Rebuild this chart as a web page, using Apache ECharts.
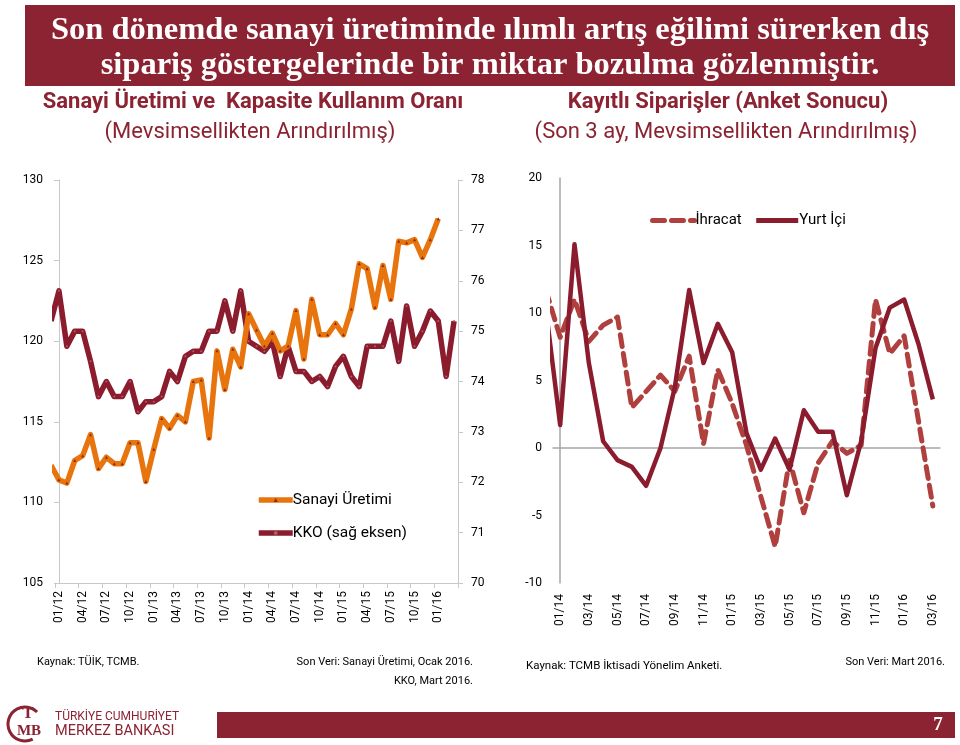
<!DOCTYPE html>
<html><head><meta charset="utf-8">
<script src="https://cdn.jsdelivr.net/npm/echarts@6/dist/echarts.min.js"></script>
<style>html,body{margin:0;padding:0;background:#fff}#c{width:960px;height:745px}</style>
</head><body><div id="c"></div>
<script>
// ---- Left chart: Sanayi Üretimi (left axis) & KKO (right axis) ----
const months1 = ['01/12','02/12','03/12','04/12','05/12','06/12','07/12','08/12','09/12','10/12','11/12','12/12',
 '01/13','02/13','03/13','04/13','05/13','06/13','07/13','08/13','09/13','10/13','11/13','12/13',
 '01/14','02/14','03/14','04/14','05/14','06/14','07/14','08/14','09/14','10/14','11/14','12/14',
 '01/15','02/15','03/15','04/15','05/15','06/15','07/15','08/15','09/15','10/15','11/15','12/15',
 '01/16','02/16','03/16'];
const sanayi = [111.4,111.2,112.6,112.9,114.2,112.1,112.8,112.4,112.4,113.7,113.7,111.3,
 113.3,115.2,114.6,115.4,115.0,117.5,117.6,114.0,119.4,117.0,119.5,118.4,
 121.7,120.7,119.7,120.5,119.4,119.7,121.9,118.9,122.6,120.4,120.4,121.1,
 120.4,122.0,124.8,124.5,122.1,124.7,122.6,126.2,126.1,126.3,125.2,126.3,
 127.6];
const kko = [75.8,74.7,75.0,75.0,74.4,73.7,74.0,73.7,73.7,74.0,73.4,73.6,
 73.6,73.7,74.2,74.0,74.5,74.6,74.6,75.0,75.0,75.6,75.0,75.8,
 74.8,74.7,74.6,74.8,74.1,74.7,74.2,74.2,74.0,74.1,73.9,74.3,
 74.5,74.1,73.9,74.7,74.7,74.7,75.2,74.4,75.5,74.7,75.0,75.4,
 75.2,74.1,75.2];
// values of the month before the first category (12/11), clipped at the plot edge
const sanayiPrev = 112.3;
const kkoPrev = 75.2;

// ---- Right chart: Kayıtlı Siparişler ----
const months2 = ['01/14','02/14','03/14','04/14','05/14','06/14','07/14','08/14','09/14','10/14','11/14','12/14',
 '01/15','02/15','03/15','04/15','05/15','06/15','07/15','08/15','09/15','10/15','11/15','12/15',
 '01/16','02/16','03/16'];
const ihracat = [8.2,11.0,7.9,9.1,9.7,3.0,4.2,5.4,4.2,6.8,0.3,5.8,
 3.3,0.2,-3.6,-7.3,-0.9,-4.8,-1.1,0.5,-0.4,0.2,11.0,7.0,
 8.3,2.0,-4.3];
const yurtIci = [1.7,15.1,6.3,0.5,-0.9,-1.4,-2.8,0.0,4.5,11.7,6.3,9.2,
 7.1,1.1,-1.6,0.7,-1.6,2.8,1.2,1.2,-3.5,0.5,7.4,10.4,
 11.0,7.7,3.6];
// values of 12/13, clipped at the plot edge
const ihracatPrev = 11.7;
const yurtIciPrev = 10.3;

const RED = '#8C2332';
const FONT = "Roboto, 'Noto Sans', sans-serif";

function withPrev(prev, arr){ return [[-1, prev]].concat(arr.map((v,i)=>[i,v])); }

const chart = echarts.init(document.getElementById('c'), null, {renderer:'canvas'});
const lblStyle = {color:'#000', fontSize:12, fontFamily:FONT};
const option = {
  animation:false,
  backgroundColor:'#fff',
  grid:[
    {left:55, top:180, width:403, height:403},
    {left:553, top:178, width:387, height:405}
  ],
  xAxis:[
    {type:'category', gridIndex:0, data:months1, boundaryGap:true, position:'bottom',
     axisLine:{lineStyle:{color:'#C8C8C8', width:1}},
     axisTick:{show:true, interval:2, length:5, lineStyle:{color:'#C8C8C8'}},
     axisLabel:Object.assign({interval:2, rotate:90, margin:8}, lblStyle),
     splitLine:{show:false}},
    {type:'value', gridIndex:0, min:-0.5, max:months1.length-0.5, show:false},
    {type:'category', gridIndex:1, data:months2, boundaryGap:true, position:'bottom',
     axisLine:{show:false, onZero:false}, axisTick:{show:false},
     axisLabel:Object.assign({interval:1, rotate:90, margin:11}, lblStyle),
     splitLine:{show:false}},
    {type:'value', gridIndex:1, min:-0.5, max:months2.length-0.5, position:'bottom',
     axisLine:{show:true, onZero:true, lineStyle:{color:'#A6A6A6', width:1.5}},
     axisTick:{show:false}, axisLabel:{show:false}, splitLine:{show:false}}
  ],
  yAxis:[
    {type:'value', gridIndex:0, min:105, max:130, interval:5,
     axisLine:{show:true, lineStyle:{color:'#C8C8C8'}},
     axisTick:{show:true, length:5, lineStyle:{color:'#C8C8C8'}},
     axisLabel:Object.assign({margin:12}, lblStyle), splitLine:{show:false}},
    {type:'value', gridIndex:0, position:'right', min:70, max:78, interval:1,
     axisLine:{show:true, lineStyle:{color:'#C8C8C8'}},
     axisTick:{show:true, length:5, lineStyle:{color:'#C8C8C8'}},
     axisLabel:Object.assign({margin:13}, lblStyle), splitLine:{show:false}},
    {type:'value', gridIndex:1, min:-10, max:20, interval:5,
     axisLine:{show:true, lineStyle:{color:'#A6A6A6', width:1.5}},
     axisTick:{show:false},
     axisLabel:Object.assign({margin:11}, lblStyle), splitLine:{show:false}}
  ],
  legend:[
    {orient:'vertical', left:251, top:487, itemWidth:34, itemHeight:5, itemGap:17,
     lineStyle:{width:5.5},
     data:['Sanayi Üretimi','KKO (sağ eksen)'],
     textStyle:{fontSize:15.5, color:'#000', fontFamily:FONT, padding:[0,0,0,-5]}},
    {orient:'horizontal', left:645, top:208, itemWidth:42, itemHeight:10, itemGap:12,
     lineStyle:{width:5},
     data:[{name:'İhracat', itemStyle:{opacity:0}}, {name:'Yurt İçi', itemStyle:{opacity:0}}],
     textStyle:{fontSize:15, color:'#000', fontFamily:FONT, padding:[0,0,0,-4]}}
  ],
  series:[
    {name:'KKO (sağ eksen)', type:'line', xAxisIndex:1, yAxisIndex:1,
     data:withPrev(kkoPrev, kko), symbol:'circle', symbolSize:2,
     itemStyle:{color:'#B35A68'},
     lineStyle:{color:'#8B1C2E', width:5.5, join:'round'}, z:2},
    {name:'Sanayi Üretimi', type:'line', xAxisIndex:1, yAxisIndex:0,
     data:withPrev(sanayiPrev, sanayi), symbol:'triangle', symbolSize:3,
     itemStyle:{color:'#8A2A10'},
     lineStyle:{color:'#E8740E', width:5.5, join:'round'}, z:3},
    {name:'İhracat', type:'line', xAxisIndex:3, yAxisIndex:2,
     data:withPrev(ihracatPrev, ihracat), symbol:'none',
     itemStyle:{color:'#B0403E'},
     lineStyle:{color:'#B0403E', width:5, type:[12,7], cap:'round', join:'round'}, z:2},
    {name:'Yurt İçi', type:'line', xAxisIndex:3, yAxisIndex:2,
     data:withPrev(yurtIciPrev, yurtIci), symbol:'none',
     itemStyle:{color:'#8B1C2E'},
     lineStyle:{color:'#8B1C2E', width:4.5, join:'round'}, z:3}
  ],
  graphic:[
    {type:'rect', shape:{x:25, y:5, width:930, height:81}, style:{fill:RED}, z:10},
    {type:'text', x:490, y:31, z:11,
     style:{text:'Son dönemde sanayi üretiminde ılımlı artış eğilimi sürerken dış', fill:'#fff',
            align:'center', verticalAlign:'middle', font:"bold 32.5px 'Liberation Serif', serif"}},
    {type:'text', x:490, y:66, z:11,
     style:{text:'sipariş göstergelerinde bir miktar bozulma gözlenmiştir.', fill:'#fff',
            align:'center', verticalAlign:'middle', font:"bold 32.5px 'Liberation Serif', serif"}},
    {type:'text', x:253, y:102, z:11,
     style:{text:'Sanayi Üretimi ve  Kapasite Kullanım Oranı', fill:RED, align:'center', verticalAlign:'middle',
            font:"bold 22px " + FONT}},
    {type:'text', x:250, y:132, z:11,
     style:{text:'(Mevsimsellikten Arındırılmış)', fill:RED, align:'center', verticalAlign:'middle',
            font:"22px " + FONT}},
    {type:'text', x:728, y:102, z:11,
     style:{text:'Kayıtlı Siparişler (Anket Sonucu)', fill:RED, align:'center', verticalAlign:'middle',
            font:"bold 22px " + FONT}},
    {type:'text', x:726, y:132, z:11,
     style:{text:'(Son 3 ay, Mevsimsellikten Arındırılmış)', fill:RED, align:'center', verticalAlign:'middle',
            font:"22px " + FONT}},
    {type:'text', x:37, y:662, z:11,
     style:{text:'Kaynak: TÜİK, TCMB.', fill:'#000', verticalAlign:'middle', font:"11px " + FONT}},
    {type:'text', x:473, y:662, z:11,
     style:{text:'Son Veri: Sanayi Üretimi, Ocak 2016.', fill:'#000', align:'right', verticalAlign:'middle', font:"11px " + FONT}},
    {type:'text', x:473, y:681, z:11,
     style:{text:'KKO, Mart 2016.', fill:'#000', align:'right', verticalAlign:'middle', font:"11px " + FONT}},
    {type:'text', x:526, y:666, z:11,
     style:{text:'Kaynak: TCMB İktisadi Yönelim Anketi.', fill:'#000', verticalAlign:'middle', font:"11.5px " + FONT}},
    {type:'text', x:945, y:662, z:11,
     style:{text:'Son Veri: Mart 2016.', fill:'#000', align:'right', verticalAlign:'middle', font:"11px " + FONT}},
    {type:'rect', shape:{x:217, y:712, width:738, height:26}, style:{fill:RED}, z:10},
    {type:'text', x:938, y:725, z:11,
     style:{text:'7', fill:'#fff', align:'center', verticalAlign:'middle', font:"bold 19px 'Liberation Serif', serif"}},
    {type:'arc', shape:{cx:25, cy:724, r:17, startAngle:1.1, endAngle:5.5}, style:{stroke:RED, lineWidth:3, fill:null}, z:11},
    {type:'text', x:28, y:714, z:11,
     style:{text:'T', fill:RED, align:'center', verticalAlign:'middle', font:"bold 17px 'Liberation Serif', serif"}},
    {type:'text', x:29, y:731, z:11,
     style:{text:'MB', fill:RED, align:'center', verticalAlign:'middle', font:"bold 15px 'Liberation Serif', serif"}},
    {type:'text', x:55, y:717, z:11,
     style:{text:'TÜRKİYE CUMHURİYET', fill:RED, verticalAlign:'middle', font:"12px " + FONT}},
    {type:'text', x:55, y:731, z:11,
     style:{text:'MERKEZ BANKASI', fill:RED, verticalAlign:'middle', font:"14.5px " + FONT}}
  ]
};
chart.setOption(option);
</script>
</body></html>
